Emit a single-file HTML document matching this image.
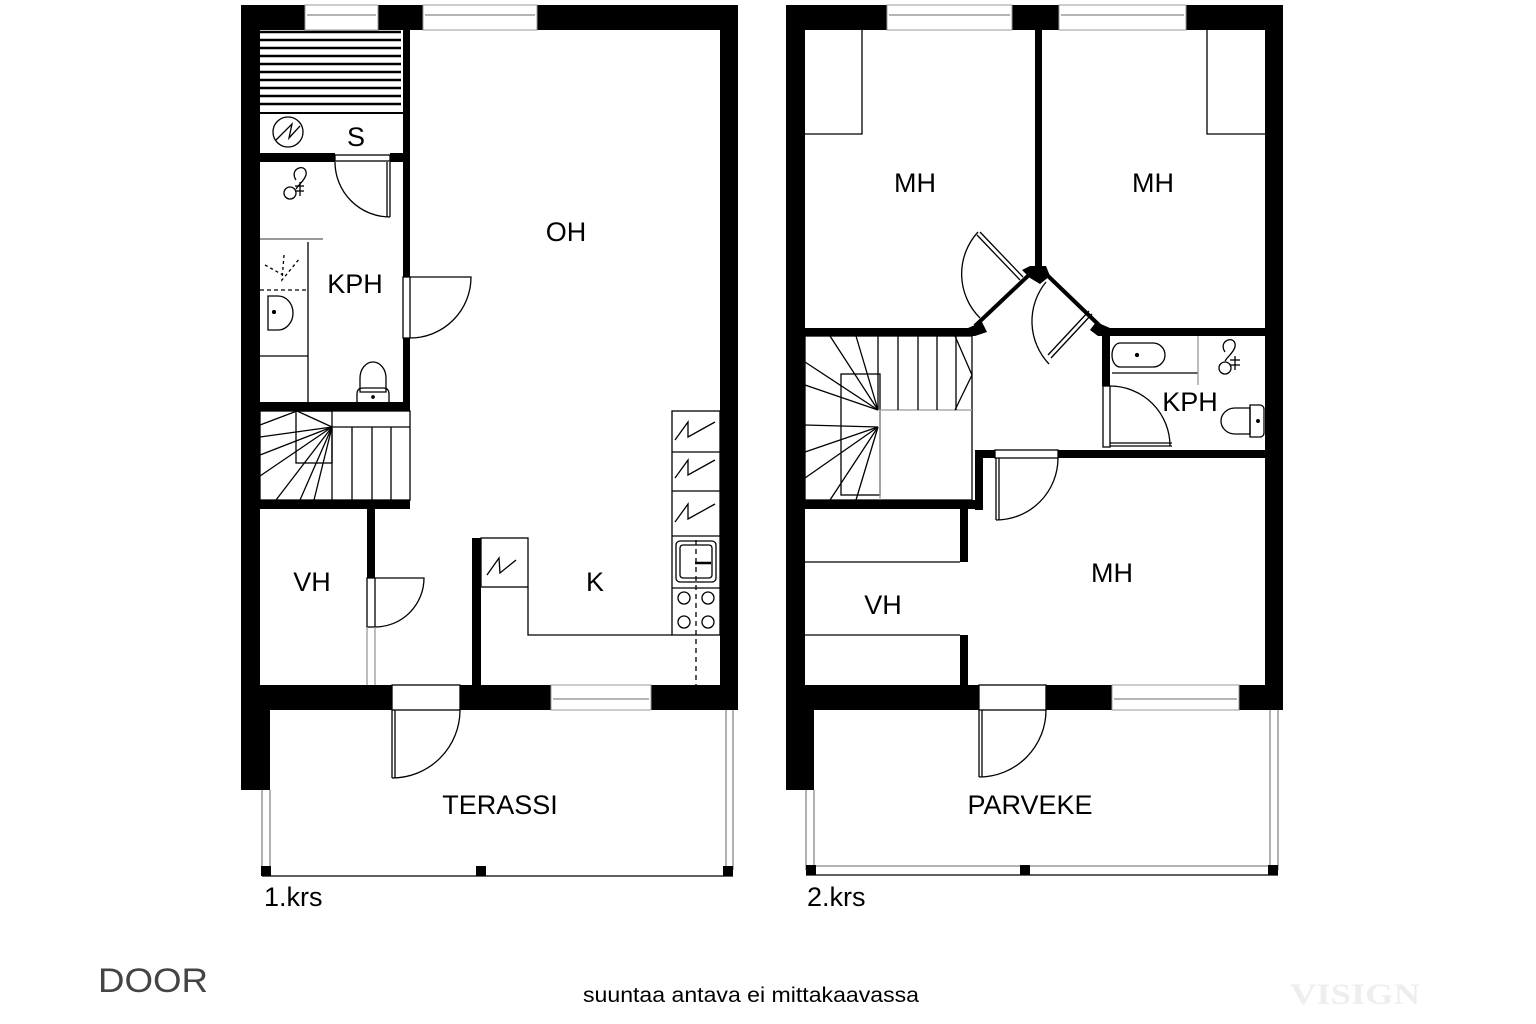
<!DOCTYPE html>
<html><head><meta charset="utf-8"><style>html,body{margin:0;padding:0;background:#fff}svg{display:block}</style></head>
<body>
<svg width="1536" height="1024" viewBox="0 0 1536 1024" xmlns="http://www.w3.org/2000/svg" font-family="Liberation Sans, Arial, sans-serif">
<rect width="1536" height="1024" fill="#fff"/>
<!-- ============ LEFT PLAN ============ -->
<g fill="#000">
  <rect x="241" y="5" width="64" height="25"/>
  <rect x="378" y="5" width="45" height="25"/>
  <rect x="537" y="5" width="201" height="25"/>
  <rect x="241" y="5" width="19" height="785"/>
  <rect x="241" y="710" width="29" height="80"/>
  <rect x="720" y="5" width="18" height="705"/>
  <rect x="241" y="685" width="151" height="25"/>
  <rect x="460" y="685" width="91" height="25"/>
  <rect x="651" y="685" width="87" height="25"/>
  <rect x="403" y="30" width="7" height="247"/>
  <rect x="403" y="338" width="7" height="72"/>
  <rect x="260" y="153" width="75" height="9"/>
  <rect x="390" y="153" width="13" height="9"/>
  <rect x="260" y="402" width="150" height="9"/>
  <rect x="260" y="500" width="150" height="9"/>
  <rect x="367" y="509" width="8" height="69"/>
  <rect x="472" y="538" width="9" height="147"/>
</g>
<g fill="none" stroke="#000" stroke-width="1.3">
  <rect x="305" y="5" width="73" height="25" stroke="#999" stroke-width="1"/>
  <line x1="307" y1="15" x2="376" y2="15" stroke="#888"/>
  <rect x="423" y="5" width="114" height="25" stroke="#999" stroke-width="1"/>
  <line x1="425" y1="15" x2="535" y2="15" stroke="#888"/>
  <rect x="551" y="685" width="100" height="25" stroke="#999" stroke-width="1"/>
  <line x1="553" y1="699" x2="649" y2="699" stroke="#888"/>
  <g stroke-width="2.5">
    <line x1="260" y1="32" x2="401" y2="32"/><line x1="260" y1="40" x2="401" y2="40"/>
    <line x1="260" y1="48" x2="401" y2="48"/><line x1="260" y1="56" x2="401" y2="56"/>
    <line x1="260" y1="64" x2="401" y2="64"/><line x1="260" y1="72" x2="401" y2="72"/>
    <line x1="260" y1="80" x2="401" y2="80"/><line x1="260" y1="88" x2="401" y2="88"/>
    <line x1="260" y1="96" x2="401" y2="96"/><line x1="260" y1="104" x2="401" y2="104"/>
  </g>
  <line x1="260" y1="113" x2="403" y2="113" stroke-width="2"/>
  <circle cx="288" cy="132" r="15"/>
  <polyline points="276,140 292,124 289,138 300,126"/>
  <rect x="335" y="155" width="55" height="6"/>
  <path d="M335,162 A55,55 0 0 0 390,217"/><line x1="390" y1="162" x2="390" y2="217"/>
  <line x1="387" y1="162" x2="387" y2="217"/>
  <path d="M296,180 c-8,-12 12,-18 10,-5 c-2,6 -6,8 -10,14"/>
  <circle cx="290" cy="193" r="6"/>
  <line x1="295" y1="186" x2="304" y2="186"/><line x1="295" y1="191" x2="304" y2="191"/><line x1="300" y1="182" x2="300" y2="196"/>
  <line x1="260" y1="239" x2="323" y2="239" stroke="#999" stroke-width="2"/>
  <line x1="308" y1="242" x2="308" y2="402"/>
  <line x1="260" y1="290" x2="308" y2="290" stroke-dasharray="4,3"/>
  <line x1="260" y1="356" x2="308" y2="356"/>
  <polyline points="265,265 283,275" stroke-dasharray="3,3"/>
  <polyline points="284,255 282,280 300,258" stroke-dasharray="3,3"/>
  <path d="M268,296 h10 a15,17 0 0 1 0,34 h-10 z"/>
  <circle cx="274" cy="312" r="1.5" fill="#000"/>
  <path d="M360,392 v-14 a13,16 0 1 1 26,0 v14 z"/>
  <path d="M357,402 v-8 q0,-6 6,-6 h20 q6,0 6,6 v8"/>
  <circle cx="373" cy="397" r="1.2" fill="#000"/>
  <rect x="403" y="277" width="7" height="61"/>
  <path d="M410,277 h61 A61,61 0 0 1 410,338"/>
  <rect x="260" y="411" width="150" height="89"/>
  <rect x="296" y="411" width="36" height="52"/>
  <line x1="332" y1="427" x2="410" y2="427"/>
  <line x1="352" y1="427" x2="352" y2="500"/><line x1="372" y1="427" x2="372" y2="500"/><line x1="391" y1="427" x2="391" y2="500"/>
  <line x1="332" y1="427" x2="332" y2="500"/>
  <line x1="332" y1="427" x2="260" y2="437"/><line x1="332" y1="427" x2="260" y2="455"/>
  <line x1="332" y1="427" x2="260" y2="476"/><line x1="332" y1="427" x2="276" y2="500"/>
  <line x1="332" y1="427" x2="300" y2="500"/><line x1="332" y1="427" x2="314" y2="500"/>
  <line x1="332" y1="427" x2="297" y2="411"/><line x1="297" y1="411" x2="260" y2="425"/>
  <rect x="367" y="578" width="8" height="49"/>
  <path d="M375,578 h49 A49,49 0 0 1 375,627"/>
  <line x1="367" y1="627" x2="367" y2="685" stroke="#999"/><line x1="375" y1="627" x2="375" y2="685" stroke="#999"/>
  <rect x="392" y="685" width="68" height="25"/>
  <path d="M460,710 A68,68 0 0 1 392,778"/><line x1="392" y1="710" x2="392" y2="778"/><line x1="395" y1="710" x2="395" y2="778"/>
  <rect x="481" y="538" width="47" height="49"/>
  <polyline points="487,575 499,558 500,573 516,560"/>
  <polyline points="528,587 528,635 672,635"/>
  <rect x="672" y="411" width="48" height="224"/>
  <line x1="672" y1="452" x2="720" y2="452"/><line x1="672" y1="491" x2="720" y2="491"/>
  <line x1="672" y1="536" x2="720" y2="536"/><line x1="672" y1="588" x2="720" y2="588"/>
  <polyline points="675,440 688,422 688,437 715,422"/>
  <polyline points="675,478 688,460 688,475 715,460"/>
  <polyline points="675,522 688,504 688,519 715,504"/>
  <rect x="676" y="541" width="40" height="41" rx="4"/>
  <rect x="680" y="545" width="32" height="33" rx="3"/>
  <line x1="695" y1="563" x2="711" y2="563" stroke-width="2.5"/>
  <circle cx="684" cy="598" r="6"/><circle cx="708" cy="598" r="6"/>
  <circle cx="684" cy="622" r="6"/><circle cx="708" cy="622" r="6"/>
  <line x1="696" y1="540" x2="696" y2="685" stroke-dasharray="5,4"/>
  <line x1="262" y1="790" x2="262" y2="870" stroke="#888"/><line x1="270" y1="790" x2="270" y2="870" stroke="#888"/>
  <line x1="726" y1="710" x2="726" y2="870" stroke="#888"/><line x1="733" y1="710" x2="733" y2="870" stroke="#888"/>
  <line x1="262" y1="876" x2="733" y2="876"/>
</g>
<g fill="#000">
  <rect x="261" y="866" width="10" height="10"/><rect x="476" y="866" width="10" height="10"/><rect x="723" y="866" width="10" height="10"/>
</g>

<!-- ============ RIGHT PLAN ============ -->
<g fill="#000">
  <rect x="786" y="5" width="101" height="25"/>
  <rect x="1012" y="5" width="47" height="25"/>
  <rect x="1186" y="5" width="97" height="25"/>
  <rect x="786" y="5" width="19" height="785"/>
  <rect x="786" y="710" width="28" height="80"/>
  <rect x="1265" y="5" width="18" height="705"/>
  <rect x="786" y="685" width="193" height="25"/>
  <rect x="1046" y="685" width="66" height="25"/>
  <rect x="1239" y="685" width="44" height="25"/>
  <rect x="1035" y="30" width="7" height="238"/>
  <rect x="805" y="328" width="167" height="8"/>
  <rect x="1102" y="328" width="163" height="8"/>
  <polygon points="1030,266 1046,266 1050,276 1040,284 1030,278 1022,270"/>
  <polygon points="968,328 982,322 987,332 975,336 968,336"/>
  <polygon points="1096,322 1110,328 1110,336 1098,336 1090,330"/>
  <rect x="1102" y="336" width="8" height="50"/>
  <rect x="975" y="450" width="8" height="60"/>
  <rect x="983" y="450" width="12" height="8"/>
  <rect x="1058" y="450" width="207" height="8"/>
  <rect x="805" y="500" width="178" height="9"/>
  <rect x="960" y="509" width="8" height="53"/>
  <rect x="960" y="635" width="8" height="50"/>
</g>
<g fill="none" stroke="#000" stroke-width="1.3">
  <rect x="887" y="5" width="125" height="25" stroke="#999" stroke-width="1"/>
  <line x1="889" y1="15" x2="1010" y2="15" stroke="#888"/>
  <rect x="1059" y="5" width="127" height="25" stroke="#999" stroke-width="1"/>
  <line x1="1061" y1="15" x2="1184" y2="15" stroke="#888"/>
  <rect x="1112" y="685" width="127" height="25" stroke="#999" stroke-width="1"/>
  <line x1="1114" y1="699" x2="1237" y2="699" stroke="#888"/>
  <polyline points="805,134 862,134 862,30"/>
  <polyline points="1265,134 1207,134 1207,30"/>
  <line x1="975" y1="326" x2="1030" y2="274" stroke-width="4"/>
  <line x1="1046" y1="274" x2="1100" y2="326" stroke-width="4"/>
  <line x1="1023" y1="277" x2="980" y2="232"/><line x1="1020" y1="280" x2="977" y2="235"/>
  <path d="M978,232 A62,62 0 0 0 980,318"/>
  <line x1="1089" y1="311" x2="1048" y2="355"/><line x1="1092" y1="314" x2="1051" y2="358"/>
  <path d="M1046,282 A62,62 0 0 0 1049,364"/>
  <rect x="805" y="336" width="167" height="164"/>
  <rect x="841" y="374" width="39" height="121"/>
  <polyline points="880,500 880,410 972,410" stroke="#999"/>
  <line x1="878" y1="336" x2="878" y2="410"/><line x1="898" y1="336" x2="898" y2="410"/>
  <line x1="918" y1="336" x2="918" y2="410"/><line x1="937" y1="336" x2="937" y2="410"/>
  <line x1="956" y1="336" x2="956" y2="410"/>
  <line x1="955" y1="336" x2="972" y2="375"/><line x1="972" y1="375" x2="955" y2="410"/>
  <g>
    <line x1="878" y1="410" x2="830" y2="336"/><line x1="878" y1="410" x2="856" y2="336"/>
    <line x1="878" y1="410" x2="805" y2="362"/><line x1="878" y1="410" x2="805" y2="385"/>
    <line x1="878" y1="427" x2="805" y2="425"/><line x1="878" y1="427" x2="805" y2="452"/>
    <line x1="878" y1="427" x2="805" y2="478"/><line x1="878" y1="427" x2="830" y2="500"/>
    <line x1="878" y1="427" x2="856" y2="500"/>
  </g>
  <line x1="1112" y1="373" x2="1198" y2="373"/>
  <line x1="1198" y1="336" x2="1198" y2="385" stroke="#999"/>
  <path d="M1120,343 h33 a12,12 0 0 1 0,24 h-33 a8,12 0 0 1 0,-24 z"/>
  <circle cx="1137" cy="355" r="1.5" fill="#000"/>
  <path d="M1225,352 c-8,-12 12,-18 10,-5 c-2,6 -6,8 -10,14"/>
  <circle cx="1225" cy="368" r="6"/>
  <line x1="1230" y1="360" x2="1240" y2="360"/><line x1="1230" y1="365" x2="1240" y2="365"/><line x1="1235" y1="356" x2="1235" y2="370"/>
  <path d="M1250,408 h-15 a14,13 0 0 0 0,26 h15 z"/>
  <path d="M1250,405 h10 a4,4 0 0 1 4,4 v24 a4,4 0 0 1 -4,4 h-10 z"/>
  <circle cx="1258" cy="421" r="1.3" fill="#000"/>
  <rect x="1103" y="386" width="7" height="61"/>
  <path d="M1110,386 A60,60 0 0 1 1170,446"/><line x1="1110" y1="446" x2="1172" y2="446"/><line x1="1110" y1="443" x2="1172" y2="443"/>
  <rect x="995" y="450" width="63" height="8"/>
  <path d="M1058,458 A62,62 0 0 1 996,520"/><line x1="996" y1="458" x2="996" y2="520"/><line x1="999" y1="458" x2="999" y2="520"/>
  <line x1="805" y1="562" x2="960" y2="562"/><line x1="805" y1="635" x2="960" y2="635"/>
  <rect x="979" y="685" width="67" height="25"/>
  <path d="M1046,710 A67,67 0 0 1 979,777"/><line x1="979" y1="710" x2="979" y2="777"/><line x1="982" y1="710" x2="982" y2="777"/>
  <line x1="806" y1="790" x2="806" y2="870" stroke="#888"/><line x1="814" y1="790" x2="814" y2="870" stroke="#888"/>
  <line x1="1270" y1="710" x2="1270" y2="870" stroke="#888"/><line x1="1278" y1="710" x2="1278" y2="870" stroke="#888"/>
  <line x1="806" y1="866" x2="1278" y2="866" stroke="#888"/>
  <line x1="806" y1="875" x2="1278" y2="875"/>
</g>
<g fill="#000">
  <rect x="806" y="865" width="10" height="10"/><rect x="1020" y="865" width="10" height="10"/><rect x="1268" y="865" width="10" height="10"/>
</g>

<g font-size="27" fill="#000" text-anchor="middle">
  <text x="566" y="241">OH</text>
  <text x="356" y="146">S</text>
  <text x="355" y="293">KPH</text>
  <text x="312" y="591">VH</text>
  <text x="595" y="591">K</text>
  <text x="500" y="814">TERASSI</text>
  <text x="915" y="192">MH</text>
  <text x="1153" y="192">MH</text>
  <text x="1190" y="411">KPH</text>
  <text x="1112" y="582">MH</text>
  <text x="883" y="614">VH</text>
  <text x="1030" y="814">PARVEKE</text>
</g>
<text x="264" y="906" font-size="27">1.krs</text>
<text x="807" y="906" font-size="27">2.krs</text>
<text x="583" y="1002" font-size="21" textLength="336" lengthAdjust="spacingAndGlyphs">suuntaa antava ei mittakaavassa</text>
<text x="98" y="992" font-size="34" fill="#444" textLength="110" lengthAdjust="spacingAndGlyphs">DOOR</text>
<text x="1290" y="1004" font-size="30" fill="#eee" font-family="Liberation Serif, serif" font-weight="bold" textLength="130" lengthAdjust="spacingAndGlyphs">VISIGN</text>
</svg>
</body></html>
